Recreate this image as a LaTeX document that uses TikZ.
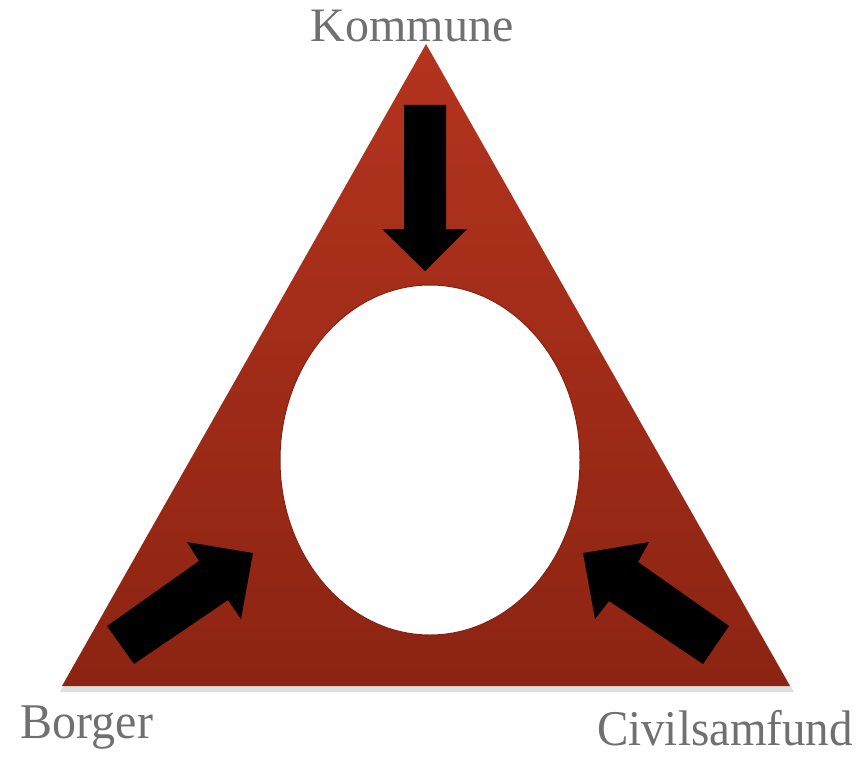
\documentclass[tikz,border=0pt]{standalone}
\usepackage{fontspec}
\setmainfont{Liberation Serif}
\usetikzlibrary{shapes.geometric}
\definecolor{tritop}{RGB}{180,52,30}
\definecolor{tribot}{RGB}{140,36,18}
\definecolor{txtgray}{RGB}{112,112,112}
\definecolor{ellborder}{RGB}{130,32,18}
\begin{document}
\begin{tikzpicture}[x=1pt,y=-1pt,
  label text/.style={text=txtgray,inner sep=0pt,anchor=base},
  arrowshape/.style={fill=black}]
\useasboundingbox (0,0) rectangle (866,757);
% soft shadow
\fill[black!25,opacity=0.5] (428,48) -- (60,692) -- (794,692) -- cycle;
% triangle
\shade[top color=tritop,bottom color=tribot] (426,44) -- (62,686) -- (790,686) -- cycle;
% ellipse
\node (hole) [ellipse,draw=ellborder,line width=1pt,fill=white,minimum width=300pt,minimum height=350pt,inner sep=0pt] at (430,460) {};
% arrows
\fill[arrowshape] (404,105) -- (446,105) -- (446,229) -- (467,229) -- (425,271) -- (382,229) -- (404,229) -- cycle;
\fill[arrowshape] (107,626) -- (199,561) -- (187,542) -- (253,553) -- (241,619) -- (228,600) -- (134,664) -- cycle;
\fill[arrowshape] (729,626) -- (638,562) -- (649,542) -- (583,553) -- (595,619) -- (609,601) -- (703,664) -- cycle;
% labels
\node (kommune) [label text,font=\fontsize{48}{50}\selectfont,xscale=1.0,transform shape] at (412,42) {Kommune};
\node (borger) [label text,font=\fontsize{50}{52}\selectfont,xscale=0.96,transform shape] at (87,738) {Borger};
\node (civil) [label text,font=\fontsize{50}{52}\selectfont,xscale=0.94,transform shape] at (725,745) {Civilsamfund};
\end{tikzpicture}
\end{document}
